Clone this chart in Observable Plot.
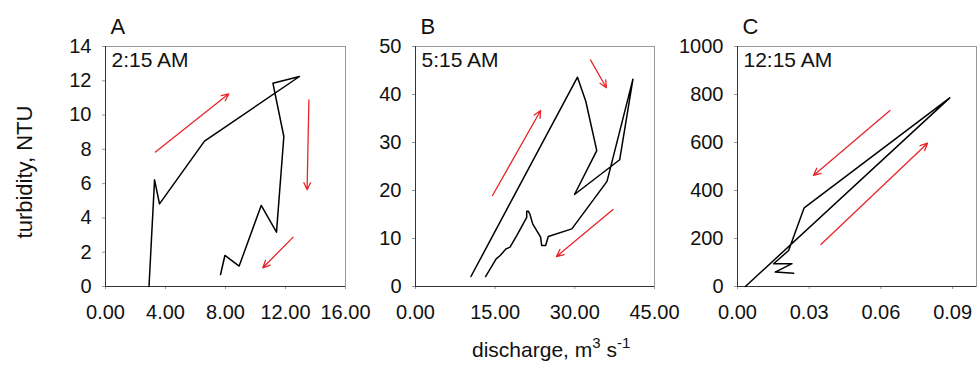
<!DOCTYPE html>
<html>
<head>
<meta charset="utf-8">
<script src="https://cdn.jsdelivr.net/npm/d3@7"></script>
<script src="https://cdn.jsdelivr.net/npm/@observablehq/plot@0.6"></script>
<style>
  html, body { margin: 0; padding: 0; background: #fff; }
  #chart { position: relative; width: 977px; height: 368px; font-family: "Liberation Sans", Arial, sans-serif; }
  #chart svg { position: absolute; top: 0; }
</style>
</head>
<body>
<div id="chart"></div>
<script>
// ---- Panel A (2:15 AM) ----
const aX = [2.9, 3.27, 3.6, 6.6, 12.93, 11.16, 11.89, 11.4, 10.38, 8.91, 7.96, 7.67];
const aY = [0, 6.22, 4.82, 8.48, 12.25, 11.86, 8.75, 3.17, 4.73, 1.19, 1.81, 0.70];
const aArrowX1 = [3.33, 13.56, 12.51];
const aArrowY1 = [7.84, 10.89, 2.88];
const aArrowX2 = [8.22, 13.44, 10.49];
const aArrowY2 = [11.24, 5.64, 1.09];
const aXTicks = [0, 4, 8, 12, 16];
const aYTicks = [0, 2, 4, 6, 8, 10, 12, 14];

// ---- Panel B (5:15 AM) ----
const bX = [10.44, 30.5, 32.06, 34.13, 29.94, 38.44, 40.94, 36.06, 29.44, 25.0, 24.5, 23.75, 23.56, 22.06, 21.56, 21.25, 20.94, 20.94, 19.06, 17.8, 17.06, 15.94, 15.19, 13.19];
const bY = [2.08, 43.6, 38.6, 28.3, 19.17, 26.4, 43.2, 21.9, 12.0, 10.4, 8.54, 8.54, 10.28, 13.05, 15.0, 15.7, 15.7, 14.4, 10.6, 8.2, 7.85, 6.46, 5.76, 2.08];
const bArrowX1 = [14.5, 32.94, 37.19];
const bArrowY1 = [18.96, 47.2, 16.04];
const bArrowX2 = [23.56, 35.94, 26.56];
const bArrowY2 = [36.67, 41.4, 6.25];
const bXTicks = [0, 15, 30, 45];
const bYTicks = [0, 10, 20, 30, 40, 50];

// ---- Panel C (12:15 AM) ----
const cX = [0.0033, 0.0888, 0.0279, 0.0214, 0.0151, 0.0228, 0.0158, 0.0235];
const cY = [0, 786, 328, 150, 95, 95, 60, 55];
const cArrowX1 = [0.0638, 0.0349];
const cArrowY1 = [733, 175];
const cArrowX2 = [0.0318, 0.0795];
const cArrowY2 = [463, 597];
const cXTicks = [0, 0.03, 0.06, 0.09];
const cYTicks = [0, 200, 400, 600, 800, 1000];

const panelLetters = ["A", "B", "C"];
const panelTimes = ["2:15 AM", "5:15 AM", "12:15 AM"];
const yTitle = "turbidity, NTU";

const FONT = '"Liberation Sans", Arial, sans-serif';
const RED = "#e8262a";

function makePanel(cfg) {
  const pts = cfg.xs.map((x, i) => ({x, y: cfg.ys[i]}));
  const arrows = cfg.ax1.map((x1, i) => ({x1, y1: cfg.ay1[i], x2: cfg.ax2[i], y2: cfg.ay2[i]}));
  const svg = Plot.plot({
    width: cfg.width,
    height: 330,
    marginLeft: cfg.marginLeft,
    marginRight: cfg.marginRight,
    marginTop: 46,
    marginBottom: 44,
    style: {fontFamily: FONT, fontSize: "20px", color: "#111", background: "transparent", overflow: "visible"},
    x: {domain: cfg.xDomain},
    y: {domain: cfg.yDomain},
    marks: [
      Plot.frame({stroke: "#9a9a9a", strokeWidth: 1}),
      Plot.axisX({ticks: cfg.xTicks, tickFormat: d => d.toFixed(2), tickSize: 3, tickPadding: 15, stroke: "#999", fill: "#111", label: null}),
      Plot.axisY({ticks: cfg.yTicks, tickFormat: d => String(d), tickSize: 3, tickPadding: 11, stroke: "#999", fill: "#111", label: null}),
      Plot.ruleX([cfg.xDomain[0]], {stroke: "#333", strokeWidth: 1}),
      Plot.ruleY([cfg.yDomain[0]], {stroke: "#333", strokeWidth: 1}),
      Plot.line(pts, {x: "x", y: "y", stroke: "black", strokeWidth: 1.5, curve: "linear"}),
      Plot.arrow(arrows, {x1: "x1", y1: "y1", x2: "x2", y2: "y2", stroke: RED, strokeWidth: 1.3, headLength: 9, headAngle: 50, bend: 0}),
      Plot.text([cfg.letter], {frameAnchor: "top-left", lineAnchor: "top", textAnchor: "start", dx: 5, dy: -28, fontSize: 22, fill: "#111"}),
      Plot.text([cfg.time], {frameAnchor: "top-left", lineAnchor: "top", textAnchor: "start", dx: 6, dy: 6, fontSize: 21, fill: "#111"})
    ]
  });
  svg.style.left = cfg.left + "px";
  return svg;
}

const chart = document.getElementById("chart");
chart.appendChild(makePanel({
  xs: aX, ys: aY, ax1: aArrowX1, ay1: aArrowY1, ax2: aArrowX2, ay2: aArrowY2,
  xTicks: aXTicks, yTicks: aYTicks, xDomain: [0, 16], yDomain: [0, 14],
  letter: panelLetters[0], time: panelTimes[0],
  left: 0, width: 350, marginLeft: 105, marginRight: 5
}));
chart.appendChild(makePanel({
  xs: bX, ys: bY, ax1: bArrowX1, ay1: bArrowY1, ax2: bArrowX2, ay2: bArrowY2,
  xTicks: bXTicks, yTicks: bYTicks, xDomain: [0, 45], yDomain: [0, 50],
  letter: panelLetters[1], time: panelTimes[1],
  left: 330, width: 330, marginLeft: 85, marginRight: 6
}));
chart.appendChild(makePanel({
  xs: cX, ys: cY, ax1: cArrowX1, ay1: cArrowY1, ax2: cArrowX2, ay2: cArrowY2,
  xTicks: cXTicks, yTicks: cYTicks, xDomain: [0, 0.1], yDomain: [0, 1000],
  letter: panelLetters[2], time: panelTimes[2],
  left: 637, width: 340, marginLeft: 100, marginRight: 1
}));

// Shared axis titles
const overlay = d3.select(chart).append("svg")
  .attr("width", 977).attr("height", 368)
  .style("left", "0px").style("pointer-events", "none")
  .style("font-family", FONT).style("overflow", "visible");

overlay.append("text")
  .attr("transform", "translate(32,172) rotate(-90)")
  .attr("text-anchor", "middle")
  .attr("font-size", 22)
  .attr("fill", "#111")
  .text(yTitle);

const xt = overlay.append("text")
  .attr("x", 472).attr("y", 357)
  .attr("font-size", 21)
  .attr("fill", "#111");
xt.append("tspan").text("discharge, m");
xt.append("tspan").attr("dy", -9).attr("font-size", 15).text("3");
xt.append("tspan").attr("dy", 9).text(" s");
xt.append("tspan").attr("dy", -9).attr("font-size", 15).text("-1");
</script>
</body>
</html>
